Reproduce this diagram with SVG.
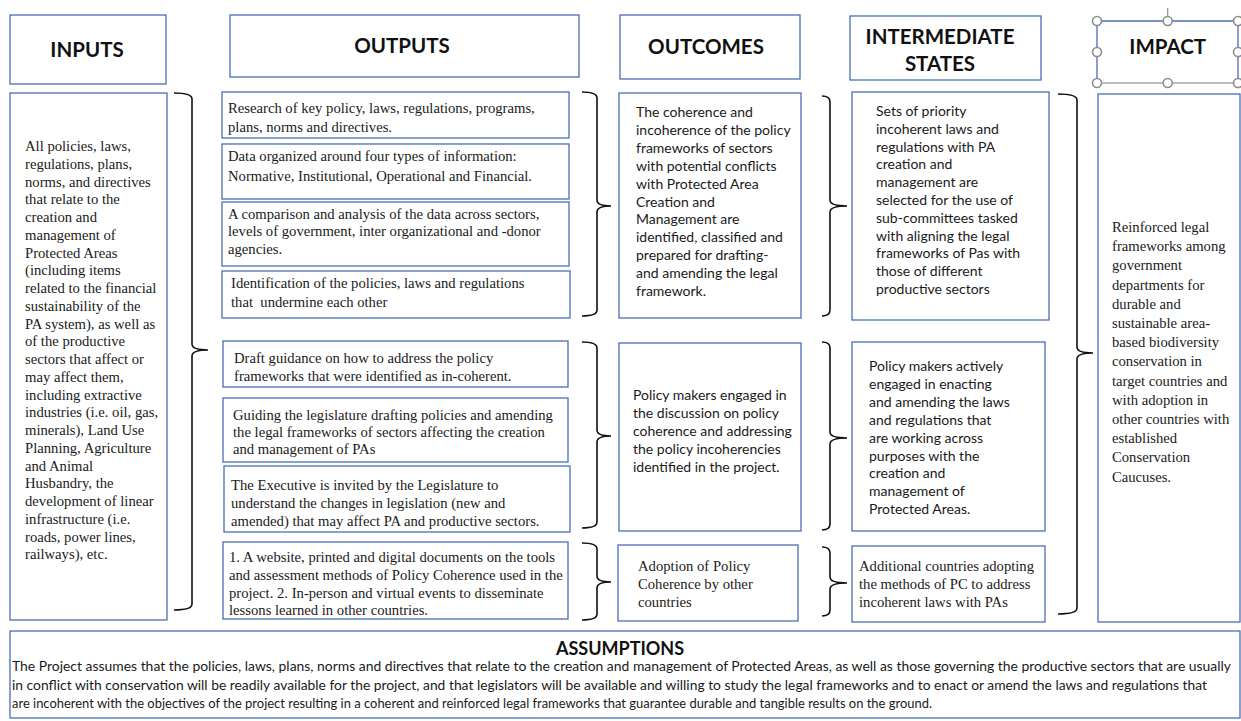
<svg xmlns="http://www.w3.org/2000/svg" width="1241" height="721" viewBox="0 0 1241 721">
<style>
.box{fill:#fff;stroke:#4a6fb5;stroke-width:1.3}
.hd{font-family:Lato,"Liberation Sans",sans-serif;font-weight:bold;font-size:20.5px;fill:#111;text-anchor:middle}
.sf{font-family:"Liberation Serif","Times New Roman",serif;font-size:14.67px;fill:#1a1a1a}
.ss{font-family:Lato,"Liberation Sans",sans-serif;font-size:14px;fill:#1a1a1a}
.as{font-family:Lato,"Liberation Sans",sans-serif;font-size:13px;fill:#1a1a1a}
.br{fill:none;stroke:#111;stroke-width:1.6}
.hdl{fill:#fff;stroke:#8c8c8c;stroke-width:1.6}
</style>
<rect width="1241" height="721" fill="#fff"/>

<g id="h-inputs"><rect class="box" x="10" y="15" width="156" height="69"/><text class="hd" x="87" y="57">INPUTS</text></g>
<g id="h-outputs"><rect class="box" x="230" y="15" width="349" height="62"/><text class="hd" x="402" y="53">OUTPUTS</text></g>
<g id="h-outcomes"><rect class="box" x="620" y="15" width="180" height="64"/><text class="hd" x="706" y="54">OUTCOMES</text></g>
<g id="h-intermediate"><rect class="box" x="850" y="16" width="191" height="64"/><text class="hd" x="940" y="44">INTERMEDIATE</text><text class="hd" x="940" y="71">STATES</text></g>
<g id="h-impact">
<line x1="1167.7" y1="8" x2="1167.7" y2="17" stroke="#8c8c8c" stroke-width="1.2"/>
<path d="M1097 83 V21 H1238 V83" fill="none" stroke="#4a6fb5" stroke-width="1.3"/>
<line x1="1097" y1="83" x2="1238" y2="83" stroke="#a6a6a6" stroke-width="1.3"/>
<text class="hd" x="1167.7" y="54">IMPACT</text>
<circle class="hdl" cx="1097" cy="21" r="4.5"/><circle class="hdl" cx="1167.7" cy="21" r="4.5"/><circle class="hdl" cx="1238" cy="21" r="4.5"/>
<circle class="hdl" cx="1097" cy="52" r="4.5"/><circle class="hdl" cx="1238" cy="52" r="4.5"/>
<circle class="hdl" cx="1097" cy="83" r="4.5"/><circle class="hdl" cx="1167.7" cy="83" r="4.5"/><circle class="hdl" cx="1238" cy="83" r="4.5"/>
</g>

<g id="inputs"><rect class="box" x="10" y="93" width="157" height="527"/>
<text class="sf">
<tspan x="25" y="151">All policies, laws,</tspan>
<tspan x="25" y="168.75">regulations, plans,</tspan>
<tspan x="25" y="186.5">norms, and directives</tspan>
<tspan x="25" y="204.25">that relate to the</tspan>
<tspan x="25" y="222">creation and</tspan>
<tspan x="25" y="239.75">management of</tspan>
<tspan x="25" y="257.5">Protected Areas</tspan>
<tspan x="25" y="275.25">(including items</tspan>
<tspan x="25" y="293">related to the financial</tspan>
<tspan x="25" y="310.75">sustainability of the</tspan>
<tspan x="25" y="328.5">PA system), as well as</tspan>
<tspan x="25" y="346.25">of the productive</tspan>
<tspan x="25" y="364">sectors that affect or</tspan>
<tspan x="25" y="381.75">may affect them,</tspan>
<tspan x="25" y="399.5">including extractive</tspan>
<tspan x="25" y="417.25">industries (i.e. oil, gas,</tspan>
<tspan x="25" y="435">minerals), Land Use</tspan>
<tspan x="25" y="452.75">Planning, Agriculture</tspan>
<tspan x="25" y="470.5">and Animal</tspan>
<tspan x="25" y="488.25">Husbandry, the</tspan>
<tspan x="25" y="506">development of linear</tspan>
<tspan x="25" y="523.75">infrastructure (i.e.</tspan>
<tspan x="25" y="541.5">roads, power lines,</tspan>
<tspan x="25" y="559.25">railways), etc.</tspan>
</text></g>

<g id="out1"><rect class="box" x="222" y="92" width="347" height="46"/>
<text class="sf"><tspan x="228" y="112.5">Research of key policy, laws, regulations, programs,</tspan><tspan x="228" y="132">plans, norms and directives.</tspan></text></g>
<g id="out2"><rect class="box" x="222" y="144" width="347" height="55"/>
<text class="sf"><tspan x="228" y="161">Data organized around four types of information:</tspan><tspan x="228" y="181">Normative, Institutional, Operational and Financial.</tspan></text></g>
<g id="out3"><rect class="box" x="222" y="202" width="347" height="64"/>
<text class="sf"><tspan x="228" y="218.5">A comparison and analysis of the data across sectors,</tspan><tspan x="228" y="236">levels of government, inter organizational and -donor</tspan><tspan x="228" y="253.5">agencies.</tspan></text></g>
<g id="out4"><rect class="box" x="222" y="271" width="348" height="47"/>
<text class="sf"><tspan x="231" y="287.5">Identification of the policies, laws and regulations</tspan><tspan x="231" y="307">that&#160; undermine each other</tspan></text></g>
<g id="out5"><rect class="box" x="223" y="341" width="345" height="46"/>
<text class="sf"><tspan x="234" y="362.5">Draft guidance on how to address the policy</tspan><tspan x="234" y="380.5">frameworks that were identified as in-coherent.</tspan></text></g>
<g id="out6"><rect class="box" x="223" y="398" width="345" height="64"/>
<text class="sf"><tspan x="233" y="419.5">Guiding the legislature drafting policies and amending</tspan><tspan x="233" y="436.5">the legal frameworks of sectors affecting the creation</tspan><tspan x="233" y="453.5">and management of PAs</tspan></text></g>
<g id="out7"><rect class="box" x="224" y="466" width="346" height="66"/>
<text class="sf"><tspan x="231" y="489.5">The Executive is invited by the Legislature to</tspan><tspan x="231" y="507.5">understand the changes in legislation (new and</tspan><tspan x="231" y="525.5">amended) that may affect PA and productive sectors.</tspan></text></g>
<g id="out8"><rect class="box" x="223" y="542" width="345" height="77"/>
<text class="sf"><tspan x="229" y="561.5">1. A website, printed and digital documents on the tools</tspan><tspan x="229" y="580">and assessment methods of Policy Coherence used in the</tspan><tspan x="229" y="597.5">project. 2. In-person and virtual events to disseminate</tspan><tspan x="229" y="615">lessons learned in other countries.</tspan></text></g>

<g id="outcome1"><rect class="box" x="619" y="93" width="182" height="225"/>
<text class="ss">
<tspan x="636" y="117">The coherence and</tspan>
<tspan x="636" y="134.9">incoherence of the policy</tspan>
<tspan x="636" y="152.8">frameworks of sectors</tspan>
<tspan x="636" y="170.7">with potential conflicts</tspan>
<tspan x="636" y="188.6">with Protected Area</tspan>
<tspan x="636" y="206.5">Creation and</tspan>
<tspan x="636" y="224.4">Management are</tspan>
<tspan x="636" y="242.3">identified, classified and</tspan>
<tspan x="636" y="260.2">prepared for drafting-</tspan>
<tspan x="636" y="278.1">and amending the legal</tspan>
<tspan x="636" y="296">framework.</tspan>
</text></g>
<g id="outcome2"><rect class="box" x="619" y="343" width="182" height="188"/>
<text class="ss">
<tspan x="633" y="400">Policy makers engaged in</tspan>
<tspan x="633" y="417.9">the discussion on policy</tspan>
<tspan x="633" y="435.8">coherence and addressing</tspan>
<tspan x="633" y="453.7">the policy incoherencies</tspan>
<tspan x="633" y="471.6">identified in the project.</tspan>
</text></g>
<g id="outcome3"><rect class="box" x="618" y="545" width="180" height="76"/>
<text class="sf"><tspan x="638" y="570.5">Adoption of Policy</tspan><tspan x="638" y="588.5">Coherence by other</tspan><tspan x="638" y="606.5">countries</tspan></text></g>

<g id="inter1"><rect class="box" x="852" y="92" width="197" height="228"/>
<text class="ss">
<tspan x="876" y="116">Sets of priority</tspan>
<tspan x="876" y="133.8">incoherent laws and</tspan>
<tspan x="876" y="151.6">regulations with PA</tspan>
<tspan x="876" y="169.4">creation and</tspan>
<tspan x="876" y="187.2">management are</tspan>
<tspan x="876" y="205">selected for the use of</tspan>
<tspan x="876" y="222.8">sub-committees tasked</tspan>
<tspan x="876" y="240.6">with aligning the legal</tspan>
<tspan x="876" y="258.4">frameworks of Pas with</tspan>
<tspan x="876" y="276.2">those of different</tspan>
<tspan x="876" y="294">productive sectors</tspan>
</text></g>
<g id="inter2"><rect class="box" x="852" y="342" width="193" height="189"/>
<text class="ss">
<tspan x="869" y="371">Policy makers actively</tspan>
<tspan x="869" y="388.9">engaged in enacting</tspan>
<tspan x="869" y="406.8">and amending the laws</tspan>
<tspan x="869" y="424.7">and regulations that</tspan>
<tspan x="869" y="442.6">are working across</tspan>
<tspan x="869" y="460.5">purposes with the</tspan>
<tspan x="869" y="478.4">creation and</tspan>
<tspan x="869" y="496.3">management of</tspan>
<tspan x="869" y="514.2">Protected Areas.</tspan>
</text></g>
<g id="inter3"><rect class="box" x="852" y="546" width="193" height="76"/>
<text class="sf"><tspan x="859" y="571">Additional countries adopting</tspan><tspan x="859" y="589">the methods of PC to address</tspan><tspan x="859" y="607">incoherent laws with PAs</tspan></text></g>

<g id="impact"><rect class="box" x="1098" y="94" width="142" height="528"/>
<text class="sf">
<tspan x="1112" y="232">Reinforced legal</tspan>
<tspan x="1112" y="251.2">frameworks among</tspan>
<tspan x="1112" y="270.4">government</tspan>
<tspan x="1112" y="289.6">departments for</tspan>
<tspan x="1112" y="308.8">durable and</tspan>
<tspan x="1112" y="328">sustainable area-</tspan>
<tspan x="1112" y="347.2">based biodiversity</tspan>
<tspan x="1112" y="366.4">conservation in</tspan>
<tspan x="1112" y="385.6">target countries and</tspan>
<tspan x="1112" y="404.8">with adoption in</tspan>
<tspan x="1112" y="424">other countries with</tspan>
<tspan x="1112" y="443.2">established</tspan>
<tspan x="1112" y="462.4">Conservation</tspan>
<tspan x="1112" y="481.6">Caucuses.</tspan>
</text></g>

<g id="assumptions"><rect class="box" x="10" y="631" width="1230" height="87"/>
<text class="hd" x="620" y="655" style="font-size:18px">ASSUMPTIONS</text>
<text class="as" x="12" y="671" textLength="1219" lengthAdjust="spacingAndGlyphs">The Project assumes that the policies, laws, plans, norms and directives that relate to the creation and management of Protected Areas, as well as those governing the productive sectors that are usually</text>
<text class="as" x="12" y="689.5" textLength="1195" lengthAdjust="spacingAndGlyphs">in conflict with conservation will be readily available for the project, and that legislators will be available and willing to study the legal frameworks and to enact or amend the laws and regulations that</text>
<text class="as" x="12" y="708" textLength="920" lengthAdjust="spacingAndGlyphs">are incoherent with the objectives of the project resulting in a coherent and reinforced legal frameworks that guarantee durable and tangible results on the ground.</text>
</g>

<g id="connectors">
<path class="br" d="M174 93 Q192 93 192 99 L192 344 Q192 350 208 350 Q192 350 192 356 L192 604 Q192 610 174 610"/>
<path class="br" d="M582 92 Q597 92 597 98 L597 200 Q597 206 611 206 Q597 206 597 212 L597 310 Q597 316 582 316"/>
<path class="br" d="M582 342 Q597 342 597 348 L597 430 Q597 436 611 436 Q597 436 597 442 L597 522 Q597 528 582 528"/>
<path class="br" d="M582 543 Q597 543 597 549 L597 576 Q597 582 611 582 Q597 582 597 588 L597 614 Q597 620 582 620"/>
<path class="br" d="M822 96 Q830 96 830 102 L830 200 Q830 206 847 206 Q830 206 830 212 L830 310 Q830 316 822 316"/>
<path class="br" d="M822 342 Q830 342 830 348 L830 432 Q830 438 847 438 Q830 438 830 444 L830 524 Q830 530 822 530"/>
<path class="br" d="M822 547 Q830 547 830 553 L830 577 Q830 583 847 583 Q830 583 830 589 L830 610 Q830 616 822 616"/>
<path class="br" d="M1058 94 Q1077 94 1077 100 L1077 347 Q1077 353 1093 353 Q1077 353 1077 359 L1077 608 Q1077 614 1058 614"/>
</g>
</svg>
